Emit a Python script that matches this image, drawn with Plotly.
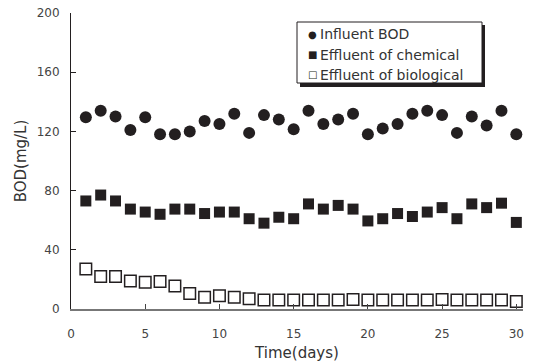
import plotly.graph_objects as go

days = list(range(1, 31))
influent_bod = [129.5, 134, 130, 121, 129.5, 118, 118, 120, 127, 125, 132, 119, 131, 128, 121.5,
                134, 125, 128, 132, 118, 122, 125, 132, 134, 131, 119, 130, 124, 134, 118]
effluent_chemical = [73, 77, 73, 67.5, 65.5, 64, 67.5, 67.5, 64.5, 65.5, 65.5, 61, 58, 62, 61,
                     71, 67.5, 70, 67.5, 59.5, 61, 64.5, 62.5, 65.5, 68.5, 61, 71, 68.5, 71.5, 58.5]
effluent_biological = [27, 22, 22, 19, 18, 18.5, 15.5, 10.5, 8, 9, 8, 7, 6, 6, 6,
                       6, 6, 6, 6.5, 6, 6, 6, 6, 6, 6.5, 6, 6, 6, 6, 5]
series_names = ["Influent BOD", "Effluent of chemical", "Effluent of biological"]
x_ticks = [0, 5, 10, 15, 20, 25, 30]
y_ticks = [0, 40, 80, 120, 160, 200]

INK = "#231f20"
fig = go.Figure()
fig.add_trace(go.Scatter(x=days, y=influent_bod, mode="markers", name=series_names[0],
                         marker=dict(symbol="circle", size=12, color=INK, line=dict(width=0)),
                         showlegend=False))
fig.add_trace(go.Scatter(x=days, y=effluent_chemical, mode="markers", name=series_names[1],
                         marker=dict(symbol="square", size=11, color=INK, line=dict(width=0)),
                         showlegend=False))
fig.add_trace(go.Scatter(x=days, y=effluent_biological, mode="markers", name=series_names[2],
                         marker=dict(symbol="square", size=11.5, color="white", line=dict(width=1.5, color=INK)),
                         showlegend=False))

# plot area in pixels: x 71..523, y 13..309
L, R, T, B = 71, 523, 13, 309
def px(x):
    return (x - L) / (R - L)
def py(y):
    return (B - y) / (B - T)

shapes = [
    dict(type="rect", xref="paper", yref="paper", x0=px(300), x1=px(485), y0=py(87), y1=py(25),
         fillcolor=INK, line=dict(width=0), layer="above"),
    dict(type="rect", xref="paper", yref="paper", x0=px(297), x1=px(482), y0=py(83), y1=py(22),
         fillcolor="white", line=dict(width=1, color=INK), layer="above"),
]
annotations = []
symbols = ["\u25cf", "\u25a0", "\u25a1"]
rows = [34.5, 54.5, 74.5]
for s, name, r in zip(symbols, series_names, rows):
    annotations.append(dict(xref="paper", yref="paper", x=px(312), y=py(r), text=s, showarrow=False,
                            xanchor="center", yanchor="middle", font=dict(size=10, color=INK, family="DejaVu Sans")))
    annotations.append(dict(xref="paper", yref="paper", x=px(318), y=py(r), text=name, showarrow=False,
                            xanchor="left", yanchor="middle", font=dict(size=14, color="#333333", family="DejaVu Sans")))

fig.update_layout(
    width=533, height=363,
    margin=dict(l=L, r=533 - R, t=T, b=363 - B),
    plot_bgcolor="white", paper_bgcolor="white",
    font=dict(family="DejaVu Sans", color="#333333"),
    shapes=shapes, annotations=annotations,
    showlegend=False,
)
fig.update_xaxes(range=[0, 30.45], tickvals=x_ticks, ticktext=[str(v) for v in x_ticks],
                 showgrid=False, zeroline=False, showline=True, linecolor="#777777", linewidth=1.5,
                 ticks="inside", ticklen=5, tickcolor="#444444", tickfont=dict(size=12, color="#444444"),
                 ticklabelstandoff=13, automargin=False,
                 title=dict(text="Time(days)", font=dict(size=15, color="#333333"), standoff=7))
fig.update_yaxes(range=[0, 200], tickvals=y_ticks, ticktext=[str(v) for v in y_ticks],
                 showgrid=False, zeroline=False, showline=True, linecolor=INK, linewidth=1,
                 ticks="inside", ticklen=5, tickcolor=INK, tickfont=dict(size=12, color="#444444"),
                 ticklabelstandoff=8, automargin=False,
                 title=dict(text="BOD(mg/L)", font=dict(size=15, color="#333333"), standoff=6))

fig.write_html("out.html")
